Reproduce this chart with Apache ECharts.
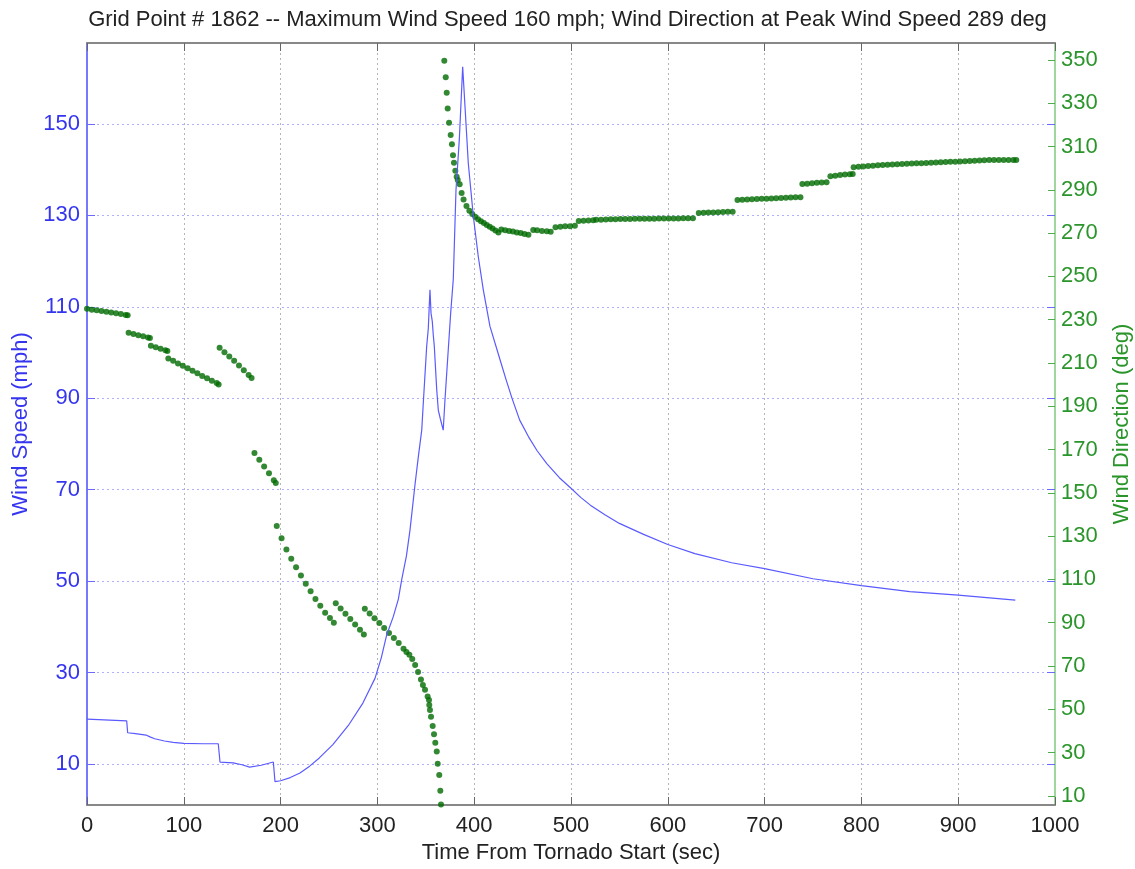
<!DOCTYPE html>
<html>
<head>
<meta charset="utf-8">
<script src="https://cdn.jsdelivr.net/npm/echarts@6/dist/echarts.min.js"></script>
<style>
  html, body { margin: 0; padding: 0; background: #fff; }
  #chart { width: 1135px; height: 869px; }
</style>
</head>
<body>
<div id="chart"></div>
<script>
// wind speed (mph) vs time (sec)
var speedData = [
  [0, 19.8], [41, 19.4], [42, 16.8], [50, 16.6], [61, 16.3], [65, 15.9], [70, 15.5], [80, 15.0],
  [89, 14.7], [100, 14.5], [120, 14.4], [135.6, 14.4], [137.4, 10.4], [151, 10.2], [160, 9.8],
  [168, 9.3], [180, 9.7], [192.5, 10.4], [194.2, 6.1], [200, 6.3], [210, 7.0], [220, 8.0],
  [230, 9.5], [240, 11.3], [254, 14.2], [270, 18.4], [285, 23.3], [297.5, 28.7], [304, 33.2],
  [309.6, 38.2], [316.4, 42.2], [321.6, 46.0], [325.1, 50.3], [330, 55.5], [333.7, 61.2],
  [338.8, 71.0], [342.3, 77.2], [345.8, 83.0], [347.4, 88.9], [350.9, 101.3], [352.6, 105.3],
  [354.3, 113.7], [355.4, 108.6], [356.7, 106.8], [357.7, 103.9], [358.8, 101.3], [361.3, 91.8],
  [362.9, 87.4], [365, 85.5], [368, 83.0], [369.8, 89.6], [373.2, 100.6], [375.7, 108.6],
  [378.4, 116.0], [381.2, 135.6], [384.6, 146.5], [388.1, 162.5], [390.5, 153.8], [393.9, 141.4],
  [399.1, 129.8], [404.2, 121.0], [409.4, 113.7], [416.3, 105.7], [426.7, 98.4], [433, 94.0],
  [439, 90.0], [447, 85.2], [456, 81.6], [465, 78.5], [475, 75.7], [488, 72.6], [500, 70.3],
  [510, 68.3], [520, 66.6], [535, 64.5], [550, 62.6], [575, 60.2], [600, 58.0], [628, 56.0],
  [666, 54.0], [700, 52.7], [750, 50.5], [800, 49.0], [850, 47.7], [900, 46.9], [959, 45.8]
];

// wind direction (deg) vs time (sec)
var directionData = [
  [0, 235.0], [5, 234.6], [10, 234.3], [15, 234.0], [20, 233.6], [25, 233.3], [30, 233.0], [35, 232.6], [40, 232.2], [42, 232.0],
  [43, 224.0], [48, 223.4], [53, 222.8], [58, 222.3], [63, 221.8], [65, 221.5],
  [66, 218.0], [71, 217.3], [76, 216.6], [81, 215.9], [83, 215.5],
  [84, 212.0], [89, 211.0], [94, 209.8], [99, 208.7], [104, 207.6], [109, 206.4], [114, 205.2], [119, 204.0], [124, 202.9], [129, 201.8], [134, 200.7], [136, 200.0],
  [137, 217.0], [142, 215.0], [147, 213.0], [152, 211.0], [157, 208.8], [162, 206.6], [167, 204.4], [170, 203.0],
  [173, 168.4], [178, 165.3], [183, 162.2], [188, 159.0], [193, 155.8], [195, 154.6],
  [196, 134.7], [201, 129.0], [206, 123.8], [211, 119.6], [216, 115.6], [221, 111.8], [226, 108.0], [231, 104.5], [236, 101.0], [241, 97.8], [246, 94.6], [251, 92.2], [255, 90.0],
  [257, 99.0], [262, 96.6], [267, 94.2], [272, 91.7], [277, 89.2], [282, 86.7], [286, 84.6],
  [287, 96.4], [292, 94.3], [297, 92.1], [302, 89.9], [307, 87.6], [312, 85.3], [317, 83.0], [322, 80.6], [327, 78.0], [330, 76.5], [333, 75.2], [336, 73.2], [339, 70.5], [342, 67.2], [345, 63.8], [347, 61.2],
  [349.2, 59.0], [351.9, 55.9], [353.3, 54.3], [353.6, 52.0], [354.3, 49.7], [355.4, 46.6], [357.1, 42.3], [358.5, 38.5], [359.8, 34.6], [361.3, 30.5], [362.3, 24.8], [363.9, 19.7], [365.0, 12.4], [365.7, 6.0],
  [369.1, 349.6], [370.6, 342.0], [371.6, 334.8], [372.6, 327.6], [374.0, 321.0], [375.7, 315.3], [377.0, 311.0], [378.1, 306.0], [379.1, 302.5], [380.5, 298.8], [381.9, 296.0],
  [383, 294.5], [385, 292.5], [387, 288.5], [389, 285.5], [392, 282.5], [395, 280.3], [398, 278.8], [401, 277.5], [404, 276.4], [407, 275.5], [410, 274.6], [413, 273.7], [416, 272.9], [419, 272.1], [422, 271.2], [425, 270.3],
  [428, 271.6], [432, 271.3], [436, 271.0], [440, 270.7], [444, 270.3], [448, 270.0], [452, 269.6], [456, 269.2],
  [461, 271.4], [465, 271.3], [470, 271.0], [475, 270.8], [479, 270.6],
  [484, 272.7], [489, 272.9], [494, 273.1], [499, 273.2], [504, 273.4],
  [508, 275.6], [513, 275.7], [518, 275.8], [523, 275.9],
  [526, 276.1], [531, 276.2], [536, 276.3], [541, 276.4], [546, 276.4],
  [551, 276.5], [556, 276.5], [561, 276.5], [566, 276.6], [571, 276.6], [576, 276.6], [581, 276.6], [586, 276.6], [591, 276.7], [596, 276.7], [601, 276.7], [606, 276.7], [611, 276.7], [616, 276.8], [621, 276.8], [626, 276.8],
  [632, 279.3], [637, 279.4], [642, 279.5], [647, 279.5], [652, 279.6], [657, 279.7], [662, 279.8], [667, 279.8],
  [672, 285.3], [677, 285.4], [682, 285.5], [687, 285.6], [692, 285.7], [697, 285.8], [702, 285.9], [707, 286.0], [712, 286.1], [717, 286.2], [722, 286.3], [727, 286.4], [732, 286.5], [737, 286.6],
  [739, 292.7], [744, 292.8], [749, 293.0], [754, 293.2], [759, 293.4], [764, 293.5],
  [768, 296.3], [773, 296.5], [778, 296.8], [783, 297.0], [788, 297.2], [791, 297.3],
  [792, 300.4], [797, 300.6], [802, 300.8], [807, 301.0], [812, 301.1], [817, 301.3], [822, 301.5], [827, 301.6], [832, 301.7], [837, 301.8], [842, 301.9], [847, 302.0], [852, 302.1], [857, 302.2], [862, 302.3],
  [867, 302.4], [872, 302.5], [877, 302.6], [882, 302.7], [887, 302.8], [892, 302.9], [897, 303.0], [902, 303.1], [907, 303.2], [912, 303.3], [917, 303.4], [922, 303.5], [927, 303.6], [932, 303.7], [937, 303.8],
  [942, 303.8], [947, 303.8], [952, 303.8], [957, 303.8], [960, 303.8]
];

var speedTicks = [10, 30, 50, 70, 90, 110, 130, 150];
var directionTicks = [10, 30, 50, 70, 90, 110, 130, 150, 170, 190, 210, 230, 250, 270, 290, 310, 330, 350];

var titleText = 'Grid Point # 1862 -- Maximum Wind Speed 160 mph; Wind Direction at Peak Wind Speed 289 deg';

var font = "'Liberation Sans', Arial, sans-serif";
var blue = '#3535f0';
var green = '#2a952a';

var chart = echarts.init(document.getElementById('chart'));
var option = {
  animation: false,
  backgroundColor: '#fff',
  title: {
    text: titleText,
    left: 'center',
    top: 4,
    textStyle: { color: '#222', fontSize: 22, fontWeight: 'normal', fontFamily: font }
  },
  grid: { left: 87, right: 80, top: 43, bottom: 64, containLabel: false, outerBoundsMode: 'none' },
  xAxis: [
    {
      type: 'value', min: 0, max: 1000, interval: 100,
      name: 'Time From Tornado Start (sec)', nameLocation: 'middle', nameGap: 36,
      nameTextStyle: { color: '#222', fontSize: 22, fontFamily: font },
      axisLine: { onZero: false, lineStyle: { color: '#888', width: 2 } },
      axisTick: { inside: true, length: 8, lineStyle: { color: '#666' } },
      axisLabel: { color: '#222', fontSize: 22, fontFamily: font, margin: 10, formatter: function (v) { return String(v); } },
      splitLine: { show: true, lineStyle: { color: '#b5b5b5', type: [2, 3], width: 1 } }
    },
    {
      type: 'value', min: 0, max: 1000, interval: 100, position: 'top',
      axisLine: { onZero: false, lineStyle: { color: '#888', width: 2 } },
      axisTick: { inside: true, length: 8, lineStyle: { color: '#666' } },
      axisLabel: { show: false },
      splitLine: { show: false }
    }
  ],
  yAxis: [
    {
      type: 'value', min: 1, max: 167.7, position: 'left',
      name: 'Wind Speed (mph)', nameLocation: 'middle', nameGap: 50,
      nameTextStyle: { color: blue, fontSize: 22, fontFamily: font },
      axisLine: { show: true, onZero: false, lineStyle: { color: '#7878ff', width: 2 } },
      axisTick: { inside: true, length: 8, customValues: speedTicks, lineStyle: { color: '#6a6aff' } },
      axisLabel: { color: blue, fontSize: 22, fontFamily: font, margin: 7, customValues: speedTicks },
      splitLine: { show: true, lineStyle: { color: '#b0b0ff', type: [2, 3], width: 1 } }
    },
    {
      type: 'value', min: 5.8, max: 357.8, position: 'right',
      name: 'Wind Direction (deg)', nameLocation: 'middle', nameGap: 56,
      nameTextStyle: { color: green, fontSize: 22, fontFamily: font },
      axisLine: { show: true, onZero: false, lineStyle: { color: '#9ed69e', width: 2 } },
      axisTick: { inside: true, length: 7, customValues: directionTicks, lineStyle: { color: '#4caf4c' } },
      axisLabel: { color: green, fontSize: 22, fontFamily: font, margin: 6, customValues: directionTicks },
      splitLine: { show: false }
    },
    {
      // left-axis ticks mirrored on the right border
      type: 'value', min: 1, max: 167.7, position: 'right',
      axisLine: { show: false, onZero: false },
      axisTick: { inside: true, length: 8, customValues: speedTicks, lineStyle: { color: '#6a6aff' } },
      axisLabel: { show: false, customValues: speedTicks },
      splitLine: { show: false }
    }
  ],
  series: [
    {
      name: 'Wind Speed',
      type: 'line',
      xAxisIndex: 0,
      yAxisIndex: 0,
      data: speedData,
      showSymbol: false,
      lineStyle: { color: '#5a5aff', width: 1.2 }
    },
    {
      name: 'Wind Direction',
      type: 'scatter',
      xAxisIndex: 0,
      yAxisIndex: 1,
      data: directionData,
      symbol: 'circle',
      symbolSize: 6,
      itemStyle: { color: '#006a00' }
    }
  ]
};
chart.setOption(option);
</script>
</body>
</html>
